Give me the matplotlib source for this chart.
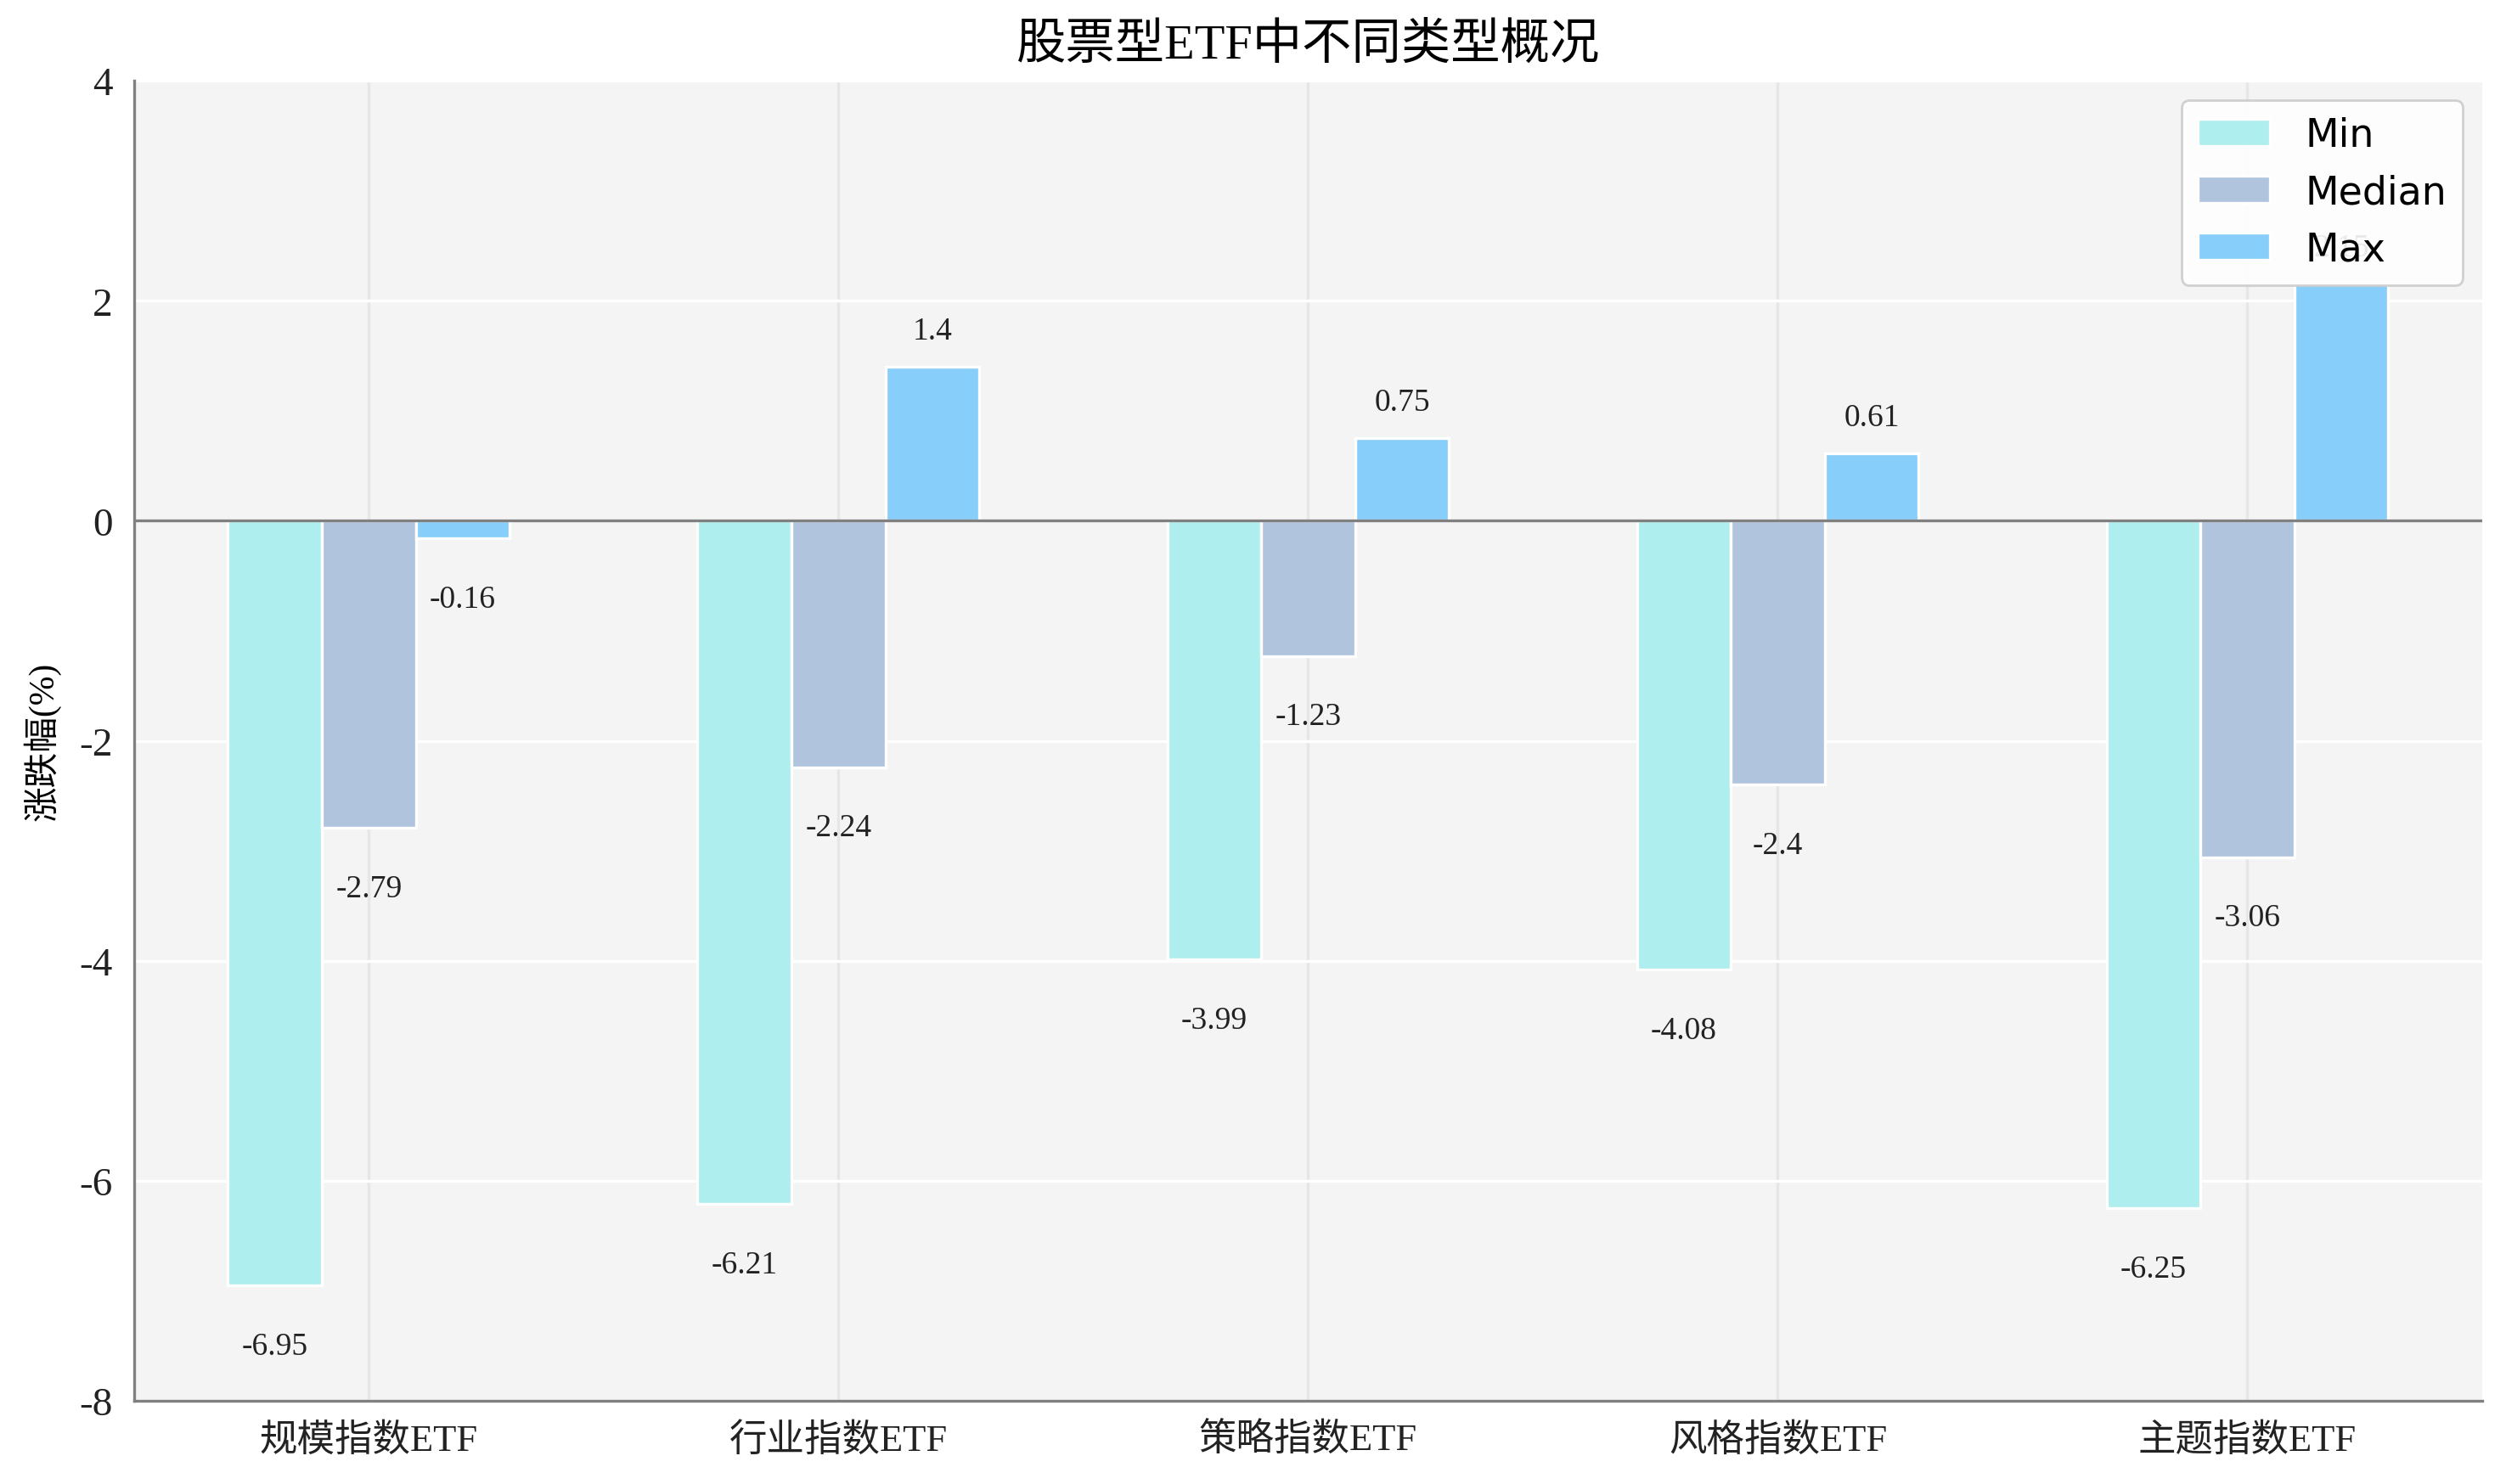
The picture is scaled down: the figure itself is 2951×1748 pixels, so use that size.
import matplotlib.pyplot as plt
import numpy as np

plt.rcParams['font.family'] = ['Liberation Serif', 'Noto Sans CJK SC']
plt.rcParams['axes.unicode_minus'] = False

categories = ['规模指数ETF', '行业指数ETF', '策略指数ETF', '风格指数ETF', '主题指数ETF']
min_vals = [-6.95, -6.21, -3.99, -4.08, -6.25]
median_vals = [-2.79, -2.24, -1.23, -2.4, -3.06]
max_vals = [-0.16, 1.4, 0.75, 0.61, 2.15]

series = [('Min', min_vals, '#afeeee'),
          ('Median', median_vals, '#b0c4de'),
          ('Max', max_vals, '#87cefa')]

fig = plt.figure(figsize=(14.755, 8.745), dpi=200)
ax = fig.add_axes([0.0535, 0.056, 0.937, 0.889])
ax.set_facecolor('#f4f4f4')

x = np.arange(len(categories))
w = 0.2
for i, (name, vals, color) in enumerate(series):
    pos = x + (i - 1) * w
    ax.bar(pos, vals, width=w, color=color, edgecolor='white', linewidth=1.2,
           label=name, zorder=3)
    for px, v in zip(pos, vals):
        ty = v + 0.33 if v >= 0 else v - 0.55
        ax.text(px, ty, f'{v:g}', ha='center', va='center', fontsize=13.5,
                color='#222222', zorder=2)

ax.axhline(0, color='#808080', linewidth=1.2, zorder=4)

ax.set_xlim(-0.5, 4.5)
ax.set_ylim(-8, 4)
ax.set_yticks(np.arange(-8, 5, 2))
ax.set_xticks(x)
ax.set_xticklabels(categories, fontsize=16)
ax.tick_params(axis='y', labelsize=17)
ax.tick_params(axis='both', length=0, colors='#222222', pad=9)

ax.grid(axis='y', color='white', linewidth=1.2, zorder=0)
ax.grid(axis='x', color='#e6e6e6', linewidth=1.2, zorder=0)
ax.set_axisbelow(True)

for s in ['top', 'right']:
    ax.spines[s].set_visible(False)
for s in ['left', 'bottom']:
    ax.spines[s].set_color('#808080')
    ax.spines[s].set_linewidth(1.2)

ax.set_ylabel('涨跌幅(%)', fontsize=15, labelpad=8)
ax.set_title('股票型ETF中不同类型概况', fontsize=21, pad=10)

leg = ax.legend(loc='upper right', prop={'family': 'DejaVu Sans', 'size': 16.5},
                fancybox=True, framealpha=0.9, edgecolor='#cccccc',
                handlelength=1.85, handletextpad=0.9, borderpad=0.42,
                labelspacing=0.48)
leg.set_zorder(10)

fig.savefig('out.png', dpi=200)
